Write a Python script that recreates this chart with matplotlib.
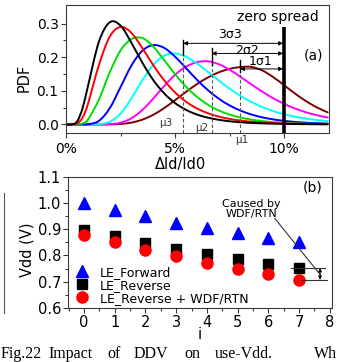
import numpy as np
import matplotlib
matplotlib.use("Agg")
import matplotlib.pyplot as plt
from matplotlib.path import Path
from matplotlib.patches import PathPatch
from matplotlib.lines import Line2D

plt.rcParams['font.family'] = ['DejaVu Sans']

# ---------------- data: panel (a) ----------------
pdf_x = [0, 0.25, 0.5, 0.75, 1, 1.5, 2, 2.5, 3, 3.5, 4, 4.5, 5, 5.5, 6, 6.5,
         7, 7.5, 8, 8.5, 9, 9.5, 10, 10.5, 11, 11.5, 12]
pdf_black = [0, 0.0001, 0.0087, 0.0475, 0.1138, 0.2451, 0.3036, 0.2934, 0.2421, 0.1830,
             0.1316, 0.0921, 0.0634, 0.0433, 0.0295, 0.0201, 0.0138, 0.0094, 0.0065,
             0.0045, 0.0031, 0.0022, 0.0016, 0.0011, 0.0008, 0.0006, 0.0004]
pdf_red = [0, 0.0000, 0.0026, 0.0202, 0.0610, 0.1757, 0.2611, 0.2898, 0.2717, 0.2264,
           0.1758, 0.1308, 0.0947, 0.0675, 0.0476, 0.0334, 0.0234, 0.0164, 0.0115,
           0.0081, 0.0057, 0.0041, 0.0029, 0.0021, 0.0015, 0.0011, 0.0008]
pdf_green = [0, 0, 0.0002, 0.0031, 0.0145, 0.0733, 0.1549, 0.2205, 0.2537, 0.2566,
             0.2311, 0.1911, 0.1493, 0.1121, 0.0819, 0.0587, 0.0416, 0.0292, 0.0204,
             0.0142, 0.0098, 0.0068, 0.0048, 0.0033, 0.0023, 0.0016, 0.0011]
pdf_blue = [0, 0, 0, 0, 0.0005, 0.0103, 0.0482, 0.1115, 0.1756, 0.2193,
            0.2357, 0.2274, 0.2012, 0.1673, 0.1329, 0.1022, 0.0767, 0.0565, 0.0411,
            0.0295, 0.0211, 0.0150, 0.0106, 0.0075, 0.0053, 0.0037, 0.0026]
pdf_cyan = [0, 0, 0, 0, 0, 0.0007, 0.0077, 0.0325, 0.0777, 0.1315,
            0.1771, 0.2042, 0.2108, 0.2011, 0.1812, 0.1564, 0.1306, 0.1063, 0.0848,
            0.0666, 0.0517, 0.0397, 0.0303, 0.0230, 0.0174, 0.0131, 0.0098]
pdf_magenta = [0, 0, 0, 0, 0, 0, 0.0008, 0.0052, 0.0184, 0.0432,
               0.0772, 0.1143, 0.1475, 0.1718, 0.1851, 0.1876, 0.1792, 0.1626, 0.1415,
               0.1190, 0.0974, 0.0779, 0.0612, 0.0474, 0.0362, 0.0273, 0.0205]
pdf_brown = [0, 0, 0, 0, 0, 0, 0.0002, 0.0014, 0.0055, 0.0143,
             0.0289, 0.0488, 0.0722, 0.0967, 0.1198, 0.1395, 0.1548, 0.1651, 0.1705,
             0.1709, 0.1604, 0.1407, 0.1165, 0.0918, 0.0695, 0.0507, 0.0359]
curve_colors = ['#000000', '#ff0000', '#00dd00', '#0000ff', '#00ffff', '#ff00ff', '#800000']

zero_spread = 10.0
mu_pos = [7.98, 6.68, 5.37]          # mu1, mu2, mu3
mu_labels = ['\u03bc1', '\u03bc2', '\u03bc3']
sigma_labels = ['1\u03c31', '2\u03c32', '3\u03c33']
arrow_y = [0.165, 0.211, 0.241]

# ---------------- data: panel (b) ----------------
idx = [0, 1, 2, 3, 4, 5, 6, 7]
vdd_forward = [1.000, 0.975, 0.949, 0.925, 0.905, 0.886, 0.866, 0.852]
vdd_reverse = [0.897, 0.873, 0.847, 0.823, 0.804, 0.786, 0.767, 0.752]
vdd_reverse_wdf = [0.879, 0.851, 0.822, 0.797, 0.773, 0.749, 0.729, 0.707]
series_labels = ['LE_Forward', 'LE_Reverse', 'LE_Reverse + WDF/RTN']

caption_words = ['Fig.22', 'Impact', 'of', 'DDV', 'on', 'use-Vdd.', 'Wh']

W, H = 339, 362
fig = plt.figure(figsize=(W / 100, H / 100), dpi=100)

spine_c = '#3a3a3a'


def smooth_path(xs, ys):
    pts = np.column_stack([xs, ys]).astype(float)
    n = len(pts)
    verts = [pts[0]]
    codes = [Path.MOVETO]
    for i in range(n - 1):
        p0 = pts[i - 1] if i > 0 else pts[i]
        p1 = pts[i]
        p2 = pts[i + 1]
        p3 = pts[i + 2] if i + 2 < n else pts[i + 1]
        c1 = p1 + (p2 - p0) / 6.0
        c2 = p2 - (p3 - p1) / 6.0
        verts += [c1, c2, p2]
        codes += [Path.CURVE4] * 3
    return Path(verts, codes)


# ================= panel (a) =================
ax1 = fig.add_axes([65.5 / W, 1 - 132.5 / H, 263.5 / W, 127.5 / H])
ax1.set_xlim(-0.03, 12.06)
ax1.set_ylim(-0.024, 0.355)

for ys, c in zip([pdf_brown, pdf_magenta, pdf_cyan, pdf_blue, pdf_green, pdf_red, pdf_black],
                 curve_colors[::-1]):
    ax1.add_patch(PathPatch(smooth_path(pdf_x, ys), fill=False, edgecolor=c, lw=1.4,
                            capstyle='round', joinstyle='round'))

ylo = ax1.get_ylim()[0]
ax1.plot([zero_spread, zero_spread], [ylo, 0.29], color='black', lw=2.6, solid_capstyle='butt')
ax1.text(9.72, 0.319, 'zero spread', ha='center', va='center', fontsize=10)
ax1.text(11.33, 0.206, '(a)', ha='center', va='center', fontsize=10)

bar_top = [0.191, 0.226, 0.251]
bar_bot = [0.157, 0.177, 0.206]
lab_xy = [(8.9, 0.186), (8.29, 0.221), (7.52, 0.266)]
mu_lab_xy = [(8.06, -0.046), (6.22, -0.011), (4.59, 0.004)]
for k in range(3):
    m = mu_pos[k]
    ax1.plot([m, m], [ylo, bar_bot[k]], color='#555555', lw=0.8, ls=(0, (3, 2)))
    ax1.plot([m, m], [bar_bot[k], bar_top[k]], color='black', lw=1.0)
    ax1.annotate('', xy=(zero_spread - 0.05, arrow_y[k]), xytext=(m, arrow_y[k]),
                 arrowprops=dict(arrowstyle='<|-|>', color='black', lw=0.7,
                                 mutation_scale=6, shrinkA=0, shrinkB=0))
    ax1.text(lab_xy[k][0], lab_xy[k][1], sigma_labels[k], ha='center', va='center', fontsize=9)
    ax1.text(mu_lab_xy[k][0], mu_lab_xy[k][1], mu_labels[k], ha='center', va='center',
             fontsize=7.5, color='#333333', clip_on=False)

ax1.set_xticks([0, 5, 10])
ax1.set_xticklabels(['0%', '5%', '10%'])
ax1.set_xticks([2.5, 7.5], minor=True)
ax1.set_yticks([0.0, 0.1, 0.2, 0.3])
ax1.set_yticklabels(['0.0', '0.1', '0.2', '0.3'])
ax1.set_yticks([0.05, 0.15, 0.25], minor=True)
ax1.tick_params(which='both', direction='out', top=False, right=False, color=spine_c, width=0.8)
ax1.tick_params(which='major', length=3.5, labelsize=10, pad=1.5)
ax1.tick_params(which='minor', length=2)
ax1.tick_params(axis='x', which='major', pad=3)
ax1.set_xlabel('\u0394Id/Id0', fontsize=10.5)
ax1.xaxis.set_label_coords(0.435, -0.19)
ax1.set_ylabel('PDF', fontsize=10.5)
ax1.yaxis.set_label_coords(-0.128, 0.427)
for s in ax1.spines.values():
    s.set_color(spine_c)
    s.set_linewidth(0.8)

# ================= panel (b) =================
ax2 = fig.add_axes([68 / W, 1 - 308 / H, 264 / W, 131.3 / H])
ax2.set_xlim(-0.52, 8.07)
ax2.set_ylim(0.6, 1.1)

ax2.plot(idx, vdd_forward, ls='none', marker='^', ms=8.5, color='#0000ff', label=series_labels[0])
ax2.plot(idx, vdd_reverse, ls='none', marker='s', ms=7, color='black', label=series_labels[1])
ax2.plot(idx, vdd_reverse_wdf, ls='none', marker='o', ms=8, color='#ff0000', label=series_labels[2])

leg = ax2.legend(loc='upper left', bbox_to_anchor=(0.03, 0.322), frameon=False, fontsize=9,
                 handlelength=1.0, handletextpad=0.9, labelspacing=0.0, borderpad=0,
                 borderaxespad=0)

ax2.text(7.45, 1.058, '(b)', ha='center', va='center', fontsize=10)
ax2.text(5.45, 0.977, 'Caused by\nWDF/RTN', ha='center', va='center', fontsize=8,
         linespacing=1.1)
ax2.plot([6.21, 7.7], [0.941, 0.725], color='#333333', lw=0.8)
ax2.plot([6.75, 7.84], [vdd_reverse[-1], vdd_reverse[-1]], color='#333333', lw=0.8)
ax2.plot([7.08, 7.9], [vdd_reverse_wdf[-1], vdd_reverse_wdf[-1]], color='#333333', lw=0.8)
ax2.annotate('', xy=(7.68, vdd_reverse[-1]), xytext=(7.68, vdd_reverse_wdf[-1]),
             arrowprops=dict(arrowstyle='<|-|>', color='black', lw=0.7, mutation_scale=5,
                             shrinkA=0, shrinkB=0))

ax2.set_xticks(range(0, 9))
ax2.set_yticks([0.6, 0.7, 0.8, 0.9, 1.0, 1.1])
ax2.set_yticklabels(['0.6', '0.7', '0.8', '0.9', '1.0', '1.1'])
ax2.set_xticks(np.arange(-0.5, 8.1, 0.5), minor=True)
ax2.set_yticks(np.arange(0.65, 1.1, 0.1), minor=True)
ax2.tick_params(which='both', direction='out', top=False, right=False, color=spine_c, width=0.8)
ax2.tick_params(which='major', length=3.5, labelsize=10.5, pad=1.5)
ax2.tick_params(which='minor', length=2)
ax2.set_xlabel('i', fontsize=10.5)
ax2.xaxis.set_label_coords(0.5, -0.142)
ax2.set_ylabel('Vdd (V)', fontsize=10.5)
ax2.yaxis.set_label_coords(-0.125, 0.44)
for s in ax2.spines.values():
    s.set_color(spine_c)
    s.set_linewidth(0.8)

# page artefacts: left rule and caption
fig.add_artist(Line2D([4 / W, 4 / W], [1 - 193 / H, 1 - 313 / H], color='#555555', lw=0.8))
caption_x = [1, 48, 107, 134, 184, 215, 314]
for wd, xp in zip(caption_words, caption_x):
    fig.text(xp / W, 0.5 / H, wd, ha='left', va='bottom', fontsize=11.5,
             family=['Liberation Serif', 'DejaVu Serif'])

fig.savefig('out.png', dpi=100)
